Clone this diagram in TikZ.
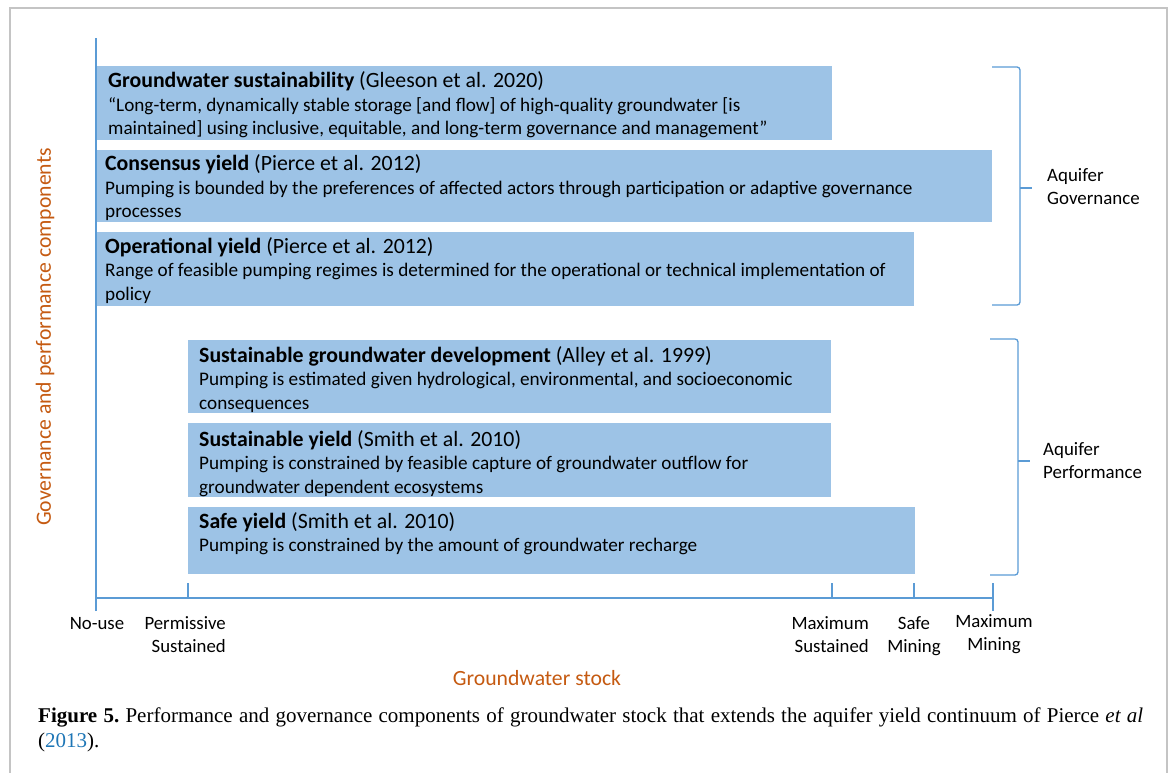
\documentclass[tikz,border=0pt]{standalone}
\usepackage{fontspec}
\setmainfont{Carlito}
\newfontfamily\capfont{Liberation Serif}
\definecolor{boxblue}{RGB}{157,195,230}
\definecolor{axisblue}{RGB}{91,155,213}
\definecolor{axorange}{RGB}{197,90,17}
\definecolor{framegray}{RGB}{196,196,196}
\definecolor{citeblue}{RGB}{30,118,182}
\newcommand\bartitle[2]{\hbox{\fontsize{21.8}{23.5}\selectfont\textbf{#1} #2}}
\newcommand\barlines[1]{\vtop{\baselineskip=23.5pt\lineskiplimit=-20pt #1}}
\tikzset{
  bar/.style={fill=boxblue, draw=none, inner sep=0pt, outer sep=0pt, anchor=north west},
  bartext/.style={anchor=base west, inner sep=0pt, font=\fontsize{19.2}{23.5}\selectfont},
  axisline/.style={draw=axisblue, line width=1.5pt},
  ticklbl/.style={anchor=base, inner sep=0pt, font=\fontsize{18.8}{23}\selectfont},
  bracket/.style={draw=axisblue, line width=1.3pt, rounded corners=3pt},
  bracelbl/.style={anchor=west, align=left, inner sep=0pt, font=\fontsize{18.9}{23}\selectfont},
  axtitle/.style={text=axorange, inner sep=0pt, font=\fontsize{21.7}{23}\selectfont}
}
\begin{document}
\begin{tikzpicture}[x=1pt,y=-1pt]
\useasboundingbox (0,0) rectangle (1173,773);
% frame
\draw[framegray, line width=1.2pt] (10,773) -- (10,8) -- (1167,8) -- (1167,773);

% bars
\node[bar, minimum width=736pt, minimum height=74pt] (b1) at (96,66) {};
\node[bar, minimum width=896pt, minimum height=72pt] (b2) at (96,150) {};
\node[bar, minimum width=818pt, minimum height=74pt] (b3) at (96,232) {};
\node[bar, minimum width=643pt, minimum height=73pt] (b4) at (188,340) {};
\node[bar, minimum width=643pt, minimum height=74pt] (b5) at (188,423) {};
\node[bar, minimum width=727pt, minimum height=67pt] (b6) at (188,507) {};

% bar texts
\node[bartext] (t1) at (108,88) {\barlines{\bartitle{Groundwater sustainability}{(Gleeson et al. 2020)}
\hbox{“Long-term, dynamically stable storage [and flow] of high-quality groundwater [is}
\hbox{maintained] using inclusive, equitable, and long-term governance and management”}}};
\node[bartext] (t2) at (105,171) {\barlines{\bartitle{Consensus yield}{(Pierce et al. 2012)}
\hbox{Pumping is bounded by the preferences of affected actors through participation or adaptive governance}
\hbox{processes}}};
\node[bartext] (t3) at (105,253) {\barlines{\bartitle{Operational yield}{(Pierce et al. 2012)}
\hbox{Range of feasible pumping regimes is determined for the operational or technical implementation of}
\hbox{policy}}};
\node[bartext] (t4) at (199,362) {\barlines{\bartitle{Sustainable groundwater development}{(Alley et al. 1999)}
\hbox{Pumping is estimated given hydrological, environmental, and socioeconomic}
\hbox{consequences}}};
\node[bartext] (t5) at (199,446) {\barlines{\bartitle{Sustainable yield}{(Smith et al. 2010)}
\hbox{Pumping is constrained by feasible capture of groundwater outflow for}
\hbox{groundwater dependent ecosystems}}};
\node[bartext] (t6) at (199,528) {\barlines{\bartitle{Safe yield}{(Smith et al. 2010)}
\hbox{Pumping is constrained by the amount of groundwater recharge}}};

% axes
\coordinate (ytop) at (96,38);
\coordinate (ybot) at (96,611);
\coordinate (origin) at (96,598);
\coordinate (xend) at (993,598);
\draw[axisline] (ybot) -- (ytop);
\draw[axisline] (origin) -- (xend);
% ticks
\coordinate (k1a) at (188,583); \coordinate (k1b) at (188,598);
\coordinate (k2a) at (832,583); \coordinate (k2b) at (832,598);
\coordinate (k3a) at (914,583); \coordinate (k3b) at (914,598);
\coordinate (k4a) at (993,583); \coordinate (k4b) at (993,611);
\draw[axisline] (k1a) -- (k1b);
\draw[axisline] (k2a) -- (k2b);
\draw[axisline] (k3a) -- (k3b);
\draw[axisline] (k4a) -- (k4b);

% tick labels
\node[ticklbl] (l0) at (97,629) {No-use};
\node[ticklbl, anchor=base east] (l1) at (226,629) {\begin{tabular}[t]{@{}r@{}}Permissive\\Sustained\end{tabular}};
\node[ticklbl, anchor=base east] (l2) at (869,629) {\begin{tabular}[t]{@{}r@{}}Maximum\\Sustained\end{tabular}};
\node[ticklbl] (l3) at (914,629) {\begin{tabular}[t]{@{}c@{}}Safe\\Mining\end{tabular}};
\node[ticklbl] (l4) at (994,627) {\begin{tabular}[t]{@{}c@{}}Maximum\\Mining\end{tabular}};

% axis titles
\node[axtitle] (xt) at (537,678) {Groundwater stock};
\node[axtitle, rotate=90] (yt) at (45,337) {Governance and performance components};

% brackets
\coordinate (g1) at (992,67); \coordinate (g2) at (1020,67);
\coordinate (g3) at (1020,305); \coordinate (g4) at (992,305);
\coordinate (gm) at (1020,188); \coordinate (gt) at (1032,188);
\draw[bracket] (g1) -- (g2) -- (g3) -- (g4);
\draw[bracket] (gm) -- (gt);
\node[bracelbl] (gl) at (1047,187) {Aquifer\\Governance};

\coordinate (p1) at (990,339); \coordinate (p2) at (1018,339);
\coordinate (p3) at (1018,575); \coordinate (p4) at (990,575);
\coordinate (pm) at (1018,461); \coordinate (pt) at (1030,461);
\draw[bracket] (p1) -- (p2) -- (p3) -- (p4);
\draw[bracket] (pm) -- (pt);
\node[bracelbl] (pl) at (1043,461) {Aquifer\\Performance};

% caption
\node[anchor=base west, inner sep=0pt, text width=1105pt, align=justify,
      font=\capfont\fontsize{21}{25}\selectfont\frenchspacing] (cap) at (38,722)
{\textbf{Figure 5.} Performance and governance components of groundwater stock that extends the aquifer yield continuum of Pierce \textit{et al}\linebreak
(\textcolor{citeblue}{2013}).};
\end{tikzpicture}
\end{document}
